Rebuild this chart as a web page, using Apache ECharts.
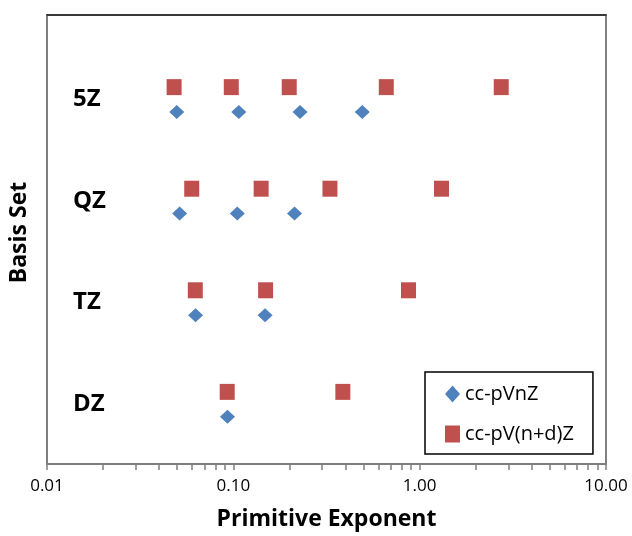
<!DOCTYPE html>
<html>
<head>
<meta charset="utf-8">
<script src="https://cdn.jsdelivr.net/npm/echarts@6/dist/echarts.min.js"></script>
<style>html,body{margin:0;padding:0;background:#fff}#c{width:632px;height:536px}</style>
</head>
<body>
<div id="c"></div>
<script>
// Categories (bottom to top) and their levels on the y axis
const categories = ['DZ', 'TZ', 'QZ', '5Z'];
const levels = [1, 2, 3, 4];

// cc-pVnZ exponents
const vnz_DZ = [0.093];
const vnz_TZ = [0.0627, 0.148];
const vnz_QZ = [0.0515, 0.105, 0.213];
const vnz_5Z = [0.0497, 0.107, 0.228, 0.492];

// cc-pV(n+d)Z exponents
const vnd_DZ = [0.0927, 0.387];
const vnd_TZ = [0.0625, 0.149, 0.871];
const vnd_QZ = [0.0598, 0.141, 0.330, 1.31];
const vnd_5Z = [0.0481, 0.0975, 0.1995, 0.662, 2.74];

// x tick labels
const xTickLabels = ['0.01', '0.10', '1.00', '10.00'];
const xMajor = [0.01, 0.1, 1, 10];

const seriesNames = ['cc-pVnZ', 'cc-pV(n+d)Z'];
const offVnz = -0.125, offVnd = 0.12;

function pts(arrs, off) {
  const out = [];
  arrs.forEach((a, i) => a.forEach(v => out.push([v, levels[i] + off])));
  return out;
}
const vnzData = pts([vnz_DZ, vnz_TZ, vnz_QZ, vnz_5Z], offVnz);
const vndData = pts([vnd_DZ, vnd_TZ, vnd_QZ, vnd_5Z], offVnd);

const ticks = [];
for (let d = 0; d < 3; d++) for (let k = 1; k < 10; k++) ticks.push(+(xMajor[d] * k).toPrecision(3));
ticks.push(10);

const FONT = 'Open Sans';
const chart = echarts.init(document.getElementById('c'), null, {renderer: 'canvas'});
chart.setOption({
  animation: false,
  textStyle: {fontFamily: FONT},
  grid: {left: 47, right: 26, top: 15, bottom: 69, show: true, borderColor: '#808080', borderWidth: 2},
  xAxis: [{
    type: 'log', logBase: 10, min: 0.01, max: 10,
    name: 'Primitive Exponent', nameLocation: 'middle', nameGap: 44,
    nameTextStyle: {fontFamily: FONT, fontWeight: 'bold', fontSize: 23, color: '#000'},
    axisLine: {show: true, lineStyle: {color: '#7f7f7f', width: 2}},
    axisTick: {show: true, length: 6, inside: false, lineStyle: {color: '#7f7f7f', width: 1.5}, customValues: ticks},
    splitLine: {show: false},
    minorTick: {show: false},
    axisLabel: {
      fontFamily: FONT, fontSize: 17, color: '#000', margin: 14,
      customValues: xMajor,
      formatter: v => { const i = xMajor.findIndex(m => Math.abs(m - v) / m < 1e-6); return i >= 0 ? xTickLabels[i] : ''; }
    }
  }, {
    type: 'log', logBase: 10, min: 0.01, max: 10, position: 'top',
    axisLine: {show: true, lineStyle: {color: '#222', width: 1.5}},
    axisTick: {show: false}, axisLabel: {show: false}, splitLine: {show: false}
  }],
  yAxis: {
    type: 'value', min: 0.41, max: 4.83,
    name: 'Basis Set', nameLocation: 'middle', nameGap: 16, nameRotate: 90,
    nameTextStyle: {fontFamily: FONT, fontWeight: 'bold', fontSize: 23, color: '#000', padding: [0, 0, 0, 14]},
    axisLine: {show: true, lineStyle: {color: '#7f7f7f', width: 2}},
    axisTick: {show: false},
    splitLine: {show: false},
    axisLabel: {
      inside: true, margin: 26, fontFamily: FONT, fontWeight: 'bold', fontSize: 24, color: '#000',
      customValues: levels,
      formatter: v => { const i = levels.findIndex(l => Math.abs(l - v) < 1e-6); return i >= 0 ? categories[i] : ''; }
    }
  },
  legend: {
    orient: 'vertical', left: 425, top: 372,
    padding: [11, 19, 9, 20], itemGap: 18,
    itemWidth: 15, itemHeight: 17,
    borderColor: '#000', borderWidth: 1.5, backgroundColor: '#fff',
    textStyle: {fontFamily: FONT, fontSize: 20, color: '#000', lineHeight: 22},
    data: seriesNames
  },
  series: [{
    name: seriesNames[0], type: 'scatter', symbol: 'diamond', symbolSize: [15, 14],
    itemStyle: {color: '#4F81BD', opacity: 1}, data: vnzData
  }, {
    name: seriesNames[1], type: 'scatter', symbol: 'rect', symbolSize: [15, 16],
    itemStyle: {color: '#C0504D', opacity: 1}, data: vndData
  }]
});
</script>
</body>
</html>
